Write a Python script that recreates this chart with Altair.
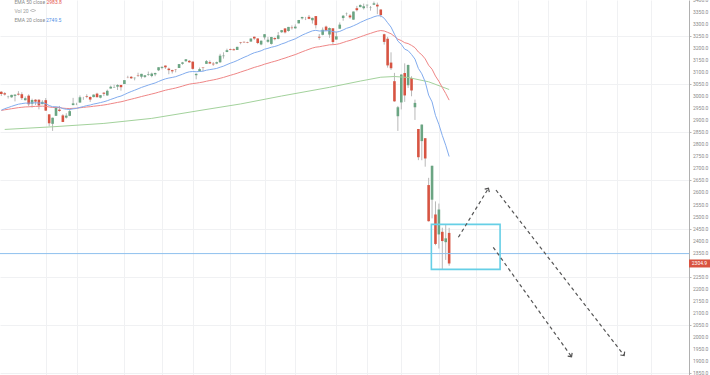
import math
import altair as alt
import pandas as pd

# ---- S&P 500 daily candles, 12 Sep 2019 .. 20 Mar 2020 (bar index 0..131) ----
opens = [3018.59, 3012.21, 2996.41, 2995.67, 3001.50, 3010.36, 3008.42, 2983.50, 3002.43, 2968.35,
         2985.73, 2985.47, 2967.07, 2983.69, 2924.78, 2885.38, 2918.56, 2944.23, 2920.40, 2911.10,
         2918.55, 2963.07, 2965.81, 2973.61, 2989.68, 3000.77, 2996.84, 2996.48, 3010.73, 2994.01,
         3014.78, 3003.32, 3032.12, 3035.39, 3039.74, 3046.90, 3050.72, 3078.96, 3080.80, 3075.10,
         3087.02, 3081.25, 3080.33, 3089.28, 3084.18, 3090.75, 3107.92, 3117.91, 3127.45, 3114.66,
         3108.49, 3111.41, 3117.44, 3134.85, 3145.49, 3147.18, 3143.85, 3087.41, 3103.50, 3119.21,
         3134.62, 3141.86, 3135.36, 3135.75, 3141.23, 3166.65, 3183.63, 3195.40, 3195.21, 3192.32,
         3223.33, 3226.05, 3225.45, 3227.20, 3247.23, 3240.09, 3215.18, 3244.67, 3226.36, 3217.55,
         3241.86, 3238.59, 3266.03, 3281.81, 3271.13, 3285.35, 3282.27, 3302.97, 3323.66, 3321.03,
         3330.02, 3315.77, 3333.10, 3247.16, 3255.35, 3289.46, 3256.45, 3282.33, 3235.66, 3280.61,
         3324.91, 3344.92, 3335.54, 3318.28, 3365.87, 3370.50, 3365.90, 3378.08, 3369.04, 3380.39,
         3380.45, 3360.50, 3257.61, 3238.94, 3139.90, 3062.54, 2916.90, 2974.28, 3096.46, 3045.75,
         3075.70, 2954.20, 2863.89, 2813.48, 2825.60, 2630.86, 2569.99, 2508.59, 2425.66, 2436.50,
         2393.48, 2431.94]
highs = [3020.74, 3017.33, 3002.19, 3006.21, 3007.83, 3021.19, 3016.37, 2999.15, 3007.98, 2989.82,
         2987.28, 2987.31, 2983.85, 2992.53, 2924.78, 2911.13, 2953.74, 2959.75, 2925.47, 2929.32,
         2948.46, 2993.28, 2972.84, 3003.28, 2997.54, 3008.29, 3000.00, 3007.33, 3014.57, 3004.78,
         3016.07, 3027.39, 3044.08, 3047.87, 3050.10, 3046.90, 3066.95, 3085.20, 3083.95, 3078.34,
         3097.77, 3093.09, 3088.33, 3102.61, 3098.06, 3098.20, 3120.46, 3124.17, 3127.64, 3118.97,
         3110.11, 3112.87, 3133.83, 3142.69, 3154.26, 3150.30, 3144.31, 3094.97, 3119.38, 3119.45,
         3150.60, 3148.87, 3142.12, 3143.98, 3176.28, 3182.68, 3197.71, 3198.22, 3198.48, 3205.48,
         3225.65, 3227.78, 3226.43, 3240.08, 3247.93, 3240.92, 3231.72, 3258.14, 3246.15, 3246.84,
         3244.91, 3267.07, 3275.58, 3282.99, 3288.13, 3294.25, 3298.66, 3317.11, 3329.88, 3329.79,
         3337.77, 3326.88, 3333.18, 3258.85, 3285.78, 3293.47, 3285.91, 3282.33, 3268.44, 3306.92,
         3337.58, 3347.96, 3341.42, 3352.26, 3375.63, 3381.47, 3385.09, 3380.69, 3375.01, 3393.52,
         3389.15, 3360.76, 3259.81, 3246.99, 3182.51, 3097.07, 2959.72, 3090.96, 3136.72, 3130.97,
         3083.04, 2985.93, 2863.89, 2882.59, 2825.60, 2660.95, 2711.33, 2562.98, 2553.93, 2453.57,
         2466.97, 2453.01]
lows = [3000.92, 3002.90, 2990.67, 2993.73, 2978.57, 3003.16, 2984.68, 2982.23, 2957.73, 2952.86,
        2963.71, 2945.53, 2967.07, 2938.70, 2874.93, 2855.94, 2918.56, 2935.68, 2892.66, 2907.41,
        2917.12, 2963.07, 2962.94, 2973.61, 2985.20, 2991.79, 2976.31, 2995.35, 2995.04, 2991.21,
        3000.42, 3001.94, 3032.12, 3034.81, 3025.96, 3023.19, 3050.72, 3074.87, 3072.15, 3065.89,
        3080.23, 3073.58, 3075.82, 3084.73, 3078.80, 3083.26, 3104.60, 3112.06, 3113.47, 3091.41,
        3094.55, 3099.26, 3117.44, 3131.00, 3143.41, 3139.34, 3110.78, 3070.33, 3102.53, 3103.76,
        3134.62, 3135.46, 3126.09, 3133.21, 3138.47, 3156.51, 3183.63, 3191.03, 3191.14, 3192.32,
        3216.03, 3222.30, 3220.51, 3227.20, 3234.37, 3216.57, 3212.03, 3235.53, 3222.34, 3214.64,
        3232.43, 3236.67, 3263.67, 3260.86, 3268.43, 3277.19, 3280.69, 3302.82, 3318.86, 3316.61,
        3320.04, 3301.87, 3281.53, 3234.50, 3253.22, 3271.89, 3242.80, 3214.68, 3235.66, 3280.61,
        3313.75, 3334.39, 3322.12, 3317.77, 3352.72, 3369.72, 3360.52, 3366.15, 3355.61, 3378.83,
        3341.02, 3328.45, 3214.65, 3118.77, 3108.99, 2977.39, 2855.84, 2945.19, 2976.63, 3034.38,
        2999.83, 2901.54, 2734.43, 2734.00, 2707.22, 2478.86, 2492.37, 2380.94, 2367.04, 2280.52,
        2319.78, 2295.56]
closes = [3009.57, 3007.39, 2997.96, 3005.70, 3006.73, 3006.79, 2992.07, 2991.78, 2966.60, 2984.87,
          2977.62, 2961.79, 2976.74, 2940.25, 2887.61, 2910.63, 2952.01, 2938.79, 2893.06, 2919.40,
          2938.13, 2970.27, 2966.15, 2995.68, 2989.69, 2997.95, 2986.20, 3006.72, 2995.99, 3004.52,
          3010.29, 3022.55, 3039.42, 3036.89, 3046.77, 3037.56, 3066.91, 3078.27, 3074.62, 3076.78,
          3085.18, 3093.08, 3087.01, 3091.84, 3094.04, 3096.63, 3120.46, 3122.03, 3120.18, 3108.46,
          3103.54, 3110.29, 3133.64, 3140.52, 3153.63, 3140.98, 3113.87, 3093.20, 3112.76, 3117.43,
          3145.91, 3135.96, 3132.52, 3141.63, 3168.57, 3168.80, 3191.45, 3192.52, 3191.14, 3205.37,
          3221.22, 3224.01, 3223.38, 3239.91, 3240.02, 3221.29, 3230.78, 3257.85, 3234.85, 3246.28,
          3237.18, 3253.05, 3274.70, 3265.35, 3288.13, 3283.15, 3289.29, 3316.81, 3329.62, 3320.79,
          3321.75, 3325.54, 3295.47, 3243.63, 3276.24, 3273.40, 3283.66, 3225.52, 3248.92, 3297.59,
          3334.69, 3345.78, 3327.71, 3352.09, 3357.75, 3379.45, 3373.94, 3380.16, 3370.29, 3386.15,
          3373.23, 3337.75, 3225.89, 3128.21, 3116.39, 2978.76, 2954.22, 3090.23, 3003.37, 3130.12,
          3023.94, 2972.37, 2746.56, 2882.23, 2741.38, 2480.64, 2711.02, 2386.13, 2529.19, 2398.10,
          2409.39, 2304.92]

# ---- moving-average lines ----
ema20 = [2942.0, 2948.2, 2953.0, 2958.0, 2962.7, 2966.9, 2969.3, 2971.5, 2971.0, 2972.3,
         2972.8, 2971.7, 2972.2, 2969.1, 2961.4, 2956.5, 2956.1, 2954.5, 2948.6, 2945.8,
         2945.0, 2947.5, 2949.3, 2953.7, 2957.1, 2961.0, 2963.4, 2967.6, 2970.3, 2973.6,
         2977.1, 2981.4, 2986.8, 2991.6, 2996.9, 3000.7, 3007.0, 3013.7, 3019.6, 3025.0,
         3030.8, 3036.7, 3041.5, 3046.4, 3050.9, 3055.2, 3061.4, 3067.2, 3072.2, 3075.6,
         3078.2, 3081.3, 3086.4, 3091.5, 3097.4, 3101.5, 3102.7, 3101.8, 3102.8, 3104.2,
         3108.2, 3110.8, 3112.9, 3115.6, 3120.6, 3125.2, 3131.5, 3137.3, 3142.4, 3148.4,
         3155.3, 3161.8, 3167.7, 3174.6, 3180.8, 3184.6, 3189.0, 3195.5, 3199.2, 3203.7,
         3206.9, 3211.3, 3217.3, 3221.9, 3228.2, 3233.4, 3238.7, 3246.1, 3254.0, 3260.3,
         3266.1, 3271.8, 3274.0, 3271.1, 3271.6, 3271.8, 3272.9, 3268.4, 3266.5, 3269.5,
         3275.7, 3282.4, 3286.7, 3292.9, 3299.1, 3306.7, 3313.1, 3319.5, 3324.3, 3330.2,
         3334.3, 3334.6, 3324.2, 3305.5, 3287.5, 3258.1, 3229.1, 3215.9, 3195.6, 3189.4,
         3173.6, 3154.4, 3115.5, 3093.3, 3059.8, 3004.6, 2976.6, 2920.4, 2883.1, 2836.9,
         2796.2, 2749.5]
ema50 = [2941.0, 2943.6, 2945.7, 2948.1, 2950.4, 2952.6, 2954.1, 2955.6, 2956.0, 2957.1,
         2957.9, 2958.1, 2958.8, 2958.1, 2955.3, 2953.5, 2953.4, 2952.8, 2950.5, 2949.3,
         2948.9, 2949.7, 2950.3, 2952.1, 2953.6, 2955.3, 2956.5, 2958.5, 2960.0, 2961.7,
         2963.6, 2965.9, 2968.8, 2971.5, 2974.4, 2976.9, 2980.4, 2984.2, 2987.7, 2991.2,
         2994.9, 2998.8, 3002.3, 3005.8, 3009.3, 3012.7, 3016.9, 3021.0, 3024.9, 3028.2,
         3031.1, 3034.2, 3038.1, 3042.1, 3046.5, 3050.2, 3052.7, 3054.3, 3056.6, 3059.0,
         3062.4, 3065.3, 3067.9, 3070.8, 3074.6, 3078.3, 3082.7, 3087.0, 3091.1, 3095.6,
         3100.5, 3105.3, 3109.9, 3115.0, 3119.9, 3123.9, 3128.1, 3133.2, 3137.2, 3141.5,
         3145.3, 3149.5, 3154.4, 3158.7, 3163.8, 3168.5, 3173.2, 3178.8, 3184.7, 3190.0,
         3195.2, 3200.3, 3204.0, 3205.6, 3208.4, 3210.9, 3213.8, 3214.3, 3215.6, 3218.8,
         3223.3, 3228.1, 3232.0, 3236.7, 3241.5, 3246.9, 3251.9, 3256.9, 3261.3, 3266.2,
         3270.4, 3273.0, 3271.2, 3265.6, 3259.7, 3248.7, 3237.2, 3231.4, 3222.5, 3218.9,
         3211.3, 3201.9, 3184.0, 3172.2, 3155.3, 3128.8, 3112.4, 3083.9, 3062.2, 3036.1,
         3011.5, 2983.8]
ema200_idx = [1, 15, 30, 44, 59, 70, 82, 96, 105, 111, 115, 119, 125, 131]
ema200_val = [2862, 2873, 2887, 2908, 2943, 2968, 3001, 3037, 3063, 3079, 3082, 3078, 3060, 3028]

# ---- drawings ----
hline_price = [2346]
box_idx = [125.8, 145.9]
box_price = [2280.5, 2467.5]
arrow_x0 = [133.7, 144.7, 143.9]
arrow_y0 = [2413.7, 2610.3, 2372.2]
arrow_x1 = [142.5, 182.2, 166.8]
arrow_y1 = [2617.4, 1922.5, 1917.5]

grid_idx = [13, 22, 36, 47, 56, 67, 77, 86, 98, 107, 117, 128, 139, 151, 160, 171, 180, 190]
price_ticks = list(range(1850, 3401, 50))

# ---- layout ----
W, H = 689, 375
x_dom = [1.078, 199.7]
y_dom = [1841.4, 3400]
UP, DOWN = "#6ba583", "#d75442"
FONT = "Roboto"

n = len(closes)
candles = pd.DataFrame({
    "i": list(range(n)), "open": opens, "high": highs, "low": lows, "close": closes,
    "dir": ["up" if c >= o else "down" for o, c in zip(opens, closes)],
})
xs = alt.Scale(domain=x_dom, nice=False, zero=False)
ys = alt.Scale(domain=y_dom, nice=False, zero=False)

X = alt.X("i:Q", scale=xs, title=None,
          axis=alt.Axis(values=grid_idx, labels=False, ticks=False, domain=False,
                        grid=True, gridColor="#f0f1f3", gridWidth=1))
Yax = alt.Axis(orient="right", values=price_ticks, grid=True, gridColor="#f0f1f3",
               labels=False, tickSize=2, tickColor="#b8b8b8", domainColor="#b0b0b0",
               title=None)

wicks = alt.Chart(candles).mark_rule(color="#b8b8b8", strokeWidth=1, clip=True).encode(
    x=X, y=alt.Y("low:Q", scale=ys, axis=Yax), y2="high:Q")
bodies = alt.Chart(candles).mark_bar(size=2.6, clip=True).encode(
    x="i:Q", y="open:Q", y2="close:Q",
    color=alt.Color("dir:N", scale=alt.Scale(domain=["up", "down"], range=[UP, DOWN]), legend=None))

e20 = pd.DataFrame({"i": list(range(n)), "v": ema20})
e50 = pd.DataFrame({"i": list(range(n)), "v": ema50})
e200 = pd.DataFrame({"i": ema200_idx, "v": ema200_val})
line200 = alt.Chart(e200).mark_line(color="#a3d29c", strokeWidth=1, clip=True).encode(x="i:Q", y="v:Q")
line50 = alt.Chart(e50).mark_line(color="#ef8686", strokeWidth=1, clip=True).encode(x="i:Q", y="v:Q")
line20 = alt.Chart(e20).mark_line(color="#82acee", strokeWidth=1, clip=True).encode(x="i:Q", y="v:Q")

hline = alt.Chart(pd.DataFrame({"p": hline_price})).mark_rule(
    stroke="#8fc0ee", strokeWidth=1).encode(y="p:Q")

box = alt.Chart(pd.DataFrame({"x1": [box_idx[0]], "x2": [box_idx[1]],
                              "y1": [box_price[0]], "y2": [box_price[1]]})).mark_rect(
    filled=False, stroke="#66cfe6", strokeWidth=1.6).encode(x="x1:Q", x2="x2:Q", y="y1:Q", y2="y2:Q")

px_i = W / (x_dom[1] - x_dom[0])
px_p = H / (y_dom[1] - y_dom[0])
arrow_rows, head_rows = [], []
for k in range(len(arrow_x0)):
    arrow_rows.append({"a": k, "o": 0, "i": arrow_x0[k], "p": arrow_y0[k]})
    arrow_rows.append({"a": k, "o": 1, "i": arrow_x1[k], "p": arrow_y1[k]})
    dx = (arrow_x1[k] - arrow_x0[k]) * px_i
    dy = -(arrow_y1[k] - arrow_y0[k]) * px_p
    head_rows.append({"i": arrow_x1[k], "p": arrow_y1[k],
                      "ang": math.degrees(math.atan2(dy, dx)) % 360})
arrows = alt.Chart(pd.DataFrame(arrow_rows)).mark_line(
    color="#555555", strokeWidth=1.2, strokeDash=[3.5, 3]).encode(
    x="i:Q", y="p:Q", detail="a:N", order="o:Q")
heads = alt.Chart(pd.DataFrame(head_rows)).mark_point(
    shape="M-1,-1L0,0L-1,1", filled=False, color="#555555", strokeWidth=1.2, size=30, opacity=1).encode(
    x="i:Q", y="p:Q", angle=alt.Angle("ang:Q", scale=None))

# price-axis labels (the 2300 level is covered by the last-price tag)
tick_lab = pd.DataFrame({"p": [p for p in price_ticks if p != 2300]})
tick_lab["t"] = [f"{p:.1f}" for p in tick_lab["p"]]
ylabels = alt.Chart(tick_lab).mark_text(
    align="left", baseline="middle", fontSize=5, font=FONT, color="#8a8a8a").encode(
    y="p:Q", x=alt.value(693), text="t:N")

# last price label
last = pd.DataFrame({"p": [closes[-1]], "t": [f"{closes[-1]:.1f}"]})
plabel = alt.Chart(last).mark_rule(color="#d9533f", strokeWidth=8).encode(
    y="p:Q", x=alt.value(689), x2=alt.value(710))
ptext = alt.Chart(last).mark_text(color="white", fontSize=5, font=FONT, align="center",
                                  baseline="middle").encode(y="p:Q", x=alt.value(699.5), text="t:N")

def txt(s, x, y, color):
    return alt.Chart(pd.DataFrame({"t": [s]})).mark_text(
        align="left", baseline="middle", fontSize=5, font=FONT, color=color).encode(
        x=alt.value(x), y=alt.value(y), text="t:N")

legend = [
    txt("EMA 50 close", 14.5, 1.5, "#8a8a8a"), txt(f"{ema50[-1]:.1f}", 46.5, 1.5, "#e5534b"),
    txt("Vol 20", 14.5, 10.5, "#9a9a9a"),
    txt("EMA 20 close", 14.5, 19.5, "#8a8a8a"), txt(f"{ema20[-1]:.1f}", 46, 19.5, "#4f8fe6"),
]
eye = alt.Chart(pd.DataFrame({"k": [0]})).mark_point(
    shape="M-1,0Q0,-0.9,1,0Q0,0.9,-1,0Z", filled=False, color="#9a9a9a", strokeWidth=0.8, size=30).encode(
    x=alt.value(33), y=alt.value(10.5))

chart = alt.layer(
    wicks, bodies, line200, line50, line20, hline, box, arrows, heads, ylabels, plabel, ptext,
    *legend, eye
).properties(
    width=W, height=H, background="white",
    padding={"left": 0, "right": 21, "top": 0, "bottom": 0},
    autosize=alt.AutoSizeParams(type="none"),
).configure_view(stroke=None)

chart.save("out.html", embed_options={"renderer": "svg", "actions": False})
